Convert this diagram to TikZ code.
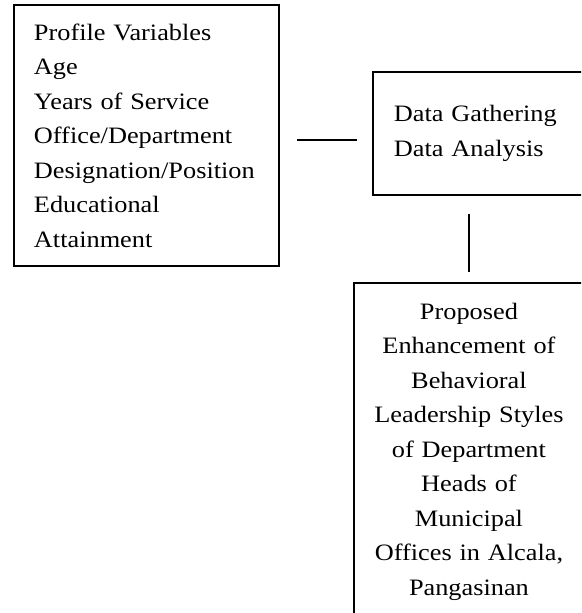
\documentclass[tikz,border=0pt]{standalone}
\usepackage{fontspec}
\setmainfont{Liberation Serif}[FakeStretch=1.12]
\usetikzlibrary{positioning, calc}

\begin{document}
\begin{tikzpicture}[
    x=1pt, y=-1pt,
    font=\fontsize{23.5}{34.5}\selectfont,
    frame/.style={
      draw=black, line width=1.9pt,
      inner xsep=20pt, inner ysep=0pt,
    },
    link/.style={draw=black, line width=1.6pt},
  ]
  \useasboundingbox (0,0) rectangle (581,613);
  \clip (0,0) rectangle (581,613);

  \node[frame, anchor=north west, align=left,
    text width=225pt, minimum height=261pt] (prof) at (13,4)
    {Profile Variables\\
     Age\\
     Years of Service\\
     Office/Department\\
     Designation/Position\\
     Educational\\
     Attainment};

  \node[frame, anchor=north west, align=left, inner xsep=21pt,
    text width=180pt, minimum height=123pt] (data) at (372,71)
    {Data Gathering\\
     Data Analysis};

  % right and bottom edges run off the page, as in the original
  \node[frame, anchor=north west, align=center, inner xsep=4pt,
    text width=222pt, minimum height=337pt] (plan) at (353,282)
    {Proposed\\
     Enhancement of\\
     Behavioral\\
     Leadership Styles\\
     of Department\\
     Heads of\\
     Municipal\\
     Offices in Alcala,\\
     Pangasinan};

  \coordinate (joint) at (0,140);
  \draw[link, shorten <=17pt, shorten >=15pt]
    (prof.east |- joint) -- (data.west |- joint);
  \draw[link, shorten <=18pt, shorten >=10pt]
    (plan.north |- data.south) -- (plan.north);
\end{tikzpicture}
\end{document}
